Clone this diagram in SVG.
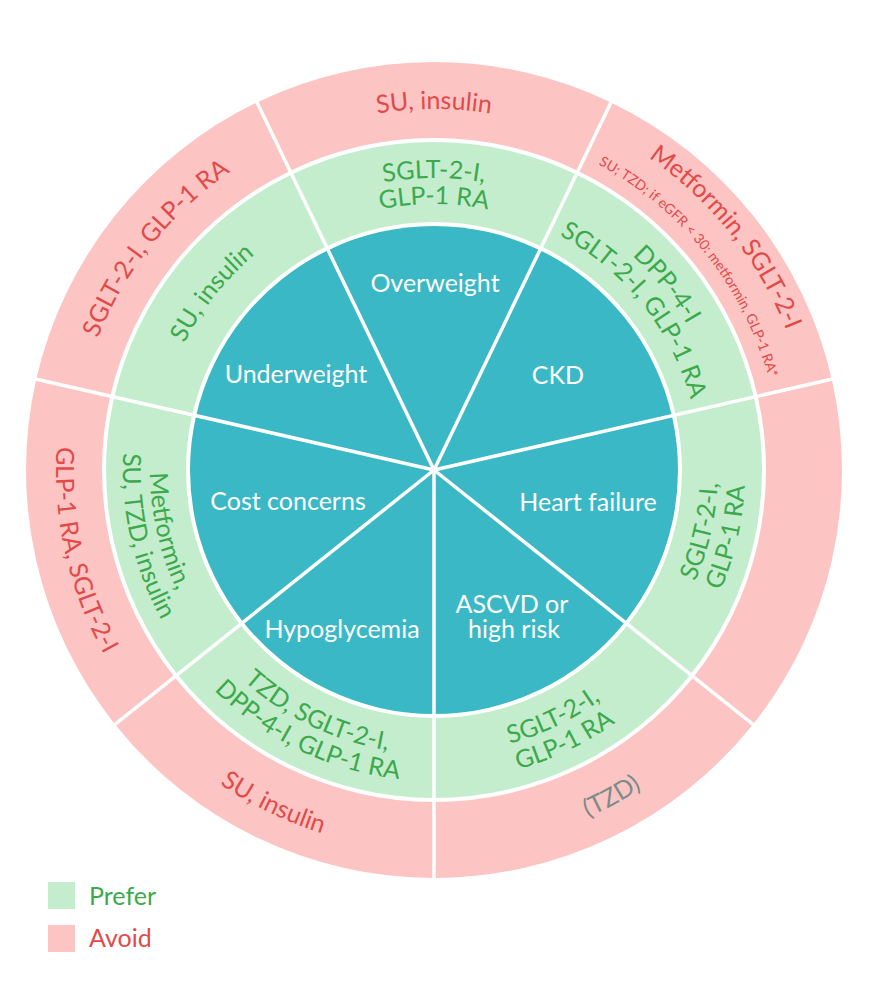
<svg xmlns="http://www.w3.org/2000/svg" width="874" height="999" viewBox="0 0 874 999">
<style>
.teal{fill:#3AB8C6}
.prefer{fill:#C4EDCE}
.avoid{fill:#FCC5C3}
text{font-family:Lato,"Open Sans","Liberation Sans",sans-serif;font-size:25px}
.lbl{fill:#fff;text-anchor:middle}
.g{fill:#3CA94C}
.r{fill:#E24A4A}
.gray{fill:#7D8B8B}
.sp{stroke:#fff;stroke-width:3.5;fill:none}
</style>
<defs>
<path id="o292" d="M146.44 419.29 A292 292 0 0 1 721.56 419.29"/>
<path id="o266" d="M172.04 423.81 A266 266 0 0 1 695.96 423.81"/>
<path id="o280" d="M158.25 421.38 A280 280 0 0 1 709.75 421.38"/>
<path id="o361" d="M78.48 407.31 A361 361 0 0 1 789.52 407.31"/>
<path id="o379" d="M60.76 404.19 A379 379 0 0 1 807.24 404.19"/>
<path id="o347" d="M92.27 409.74 A347 347 0 0 1 775.73 409.74"/>
<path id="i284" d="M154.31 519.32 A284 284 0 0 0 713.69 519.32"/>
<path id="i311" d="M127.72 524.01 A311 311 0 0 0 740.28 524.01"/>
<path id="i380" d="M59.77 535.99 A380 380 0 0 0 808.23 535.99"/>
<path id="i378" d="M61.74 535.64 A378 378 0 0 0 806.26 535.64"/>
</defs>
<rect width="874" height="999" fill="#fff"/>

<g id="overweight">
<path class="teal" d="M434 470 L328.13 250.16 A244 244 0 0 1 539.87 250.16 Z"/>
<path class="prefer" d="M326.40 246.56 A248 248 0 0 1 541.60 246.56 L576.31 174.48 A328 328 0 0 0 291.69 174.48 Z"/>
<path class="avoid" d="M289.95 170.88 A332 332 0 0 1 578.05 170.88 L611.02 102.40 A408 408 0 0 0 256.98 102.40 Z"/>
<text class="lbl" x="435" y="292">Overweight</text>
<text class="g"><textPath href="#o292" startOffset="50%" text-anchor="middle">SGLT-2-I,</textPath></text>
<text class="g"><textPath href="#o266" startOffset="50%" text-anchor="middle">GLP-1 RA</textPath></text>
<text class="r"><textPath href="#o361" startOffset="50%" text-anchor="middle">SU, insulin</textPath></text>
</g>

<g id="ckd">
<path class="teal" d="M434 470 L539.87 250.16 A244 244 0 0 1 671.88 415.71 Z"/>
<path class="prefer" d="M541.60 246.56 A248 248 0 0 1 675.78 414.82 L753.78 397.01 A328 328 0 0 0 576.31 174.48 Z"/>
<path class="avoid" d="M578.05 170.88 A332 332 0 0 1 757.68 396.12 L831.77 379.21 A408 408 0 0 0 611.02 102.40 Z"/>
<text class="lbl" x="558" y="384">CKD</text>
<g transform="rotate(51.43 434 470)">
<text class="g"><textPath href="#o292" startOffset="50%" text-anchor="middle">DPP-4-I</textPath></text>
<text class="g"><textPath href="#o266" startOffset="50%" text-anchor="middle">SGLT-2-I, GLP-1 RA</textPath></text>
<text class="r"><textPath href="#o379" startOffset="50%" text-anchor="middle">Metformin, SGLT-2-I</textPath></text>
<text class="r" style="font-size:14px"><textPath href="#o347" startOffset="50%" text-anchor="middle">SU; TZD; if eGFR &lt; 30: metformin, GLP-1 RA*</textPath></text>
</g>
</g>

<g id="heart-failure">
<path class="teal" d="M434 470 L671.88 415.71 A244 244 0 0 1 624.77 622.13 Z"/>
<path class="prefer" d="M675.78 414.82 A248 248 0 0 1 627.89 624.63 L690.44 674.50 A328 328 0 0 0 753.78 397.01 Z"/>
<path class="avoid" d="M757.68 396.12 A332 332 0 0 1 693.57 677 L752.99 724.38 A408 408 0 0 0 831.77 379.21 Z"/>
<text class="lbl" x="588" y="511">Heart failure</text>
<g transform="rotate(-77.14 434 470)">
<text class="g"><textPath href="#i284" startOffset="50%" text-anchor="middle">SGLT-2-I,</textPath></text>
<text class="g"><textPath href="#i311" startOffset="50%" text-anchor="middle">GLP-1 RA</textPath></text>
</g>
</g>

<g id="ascvd">
<path class="teal" d="M434 470 L624.77 622.13 A244 244 0 0 1 434 714 Z"/>
<path class="prefer" d="M627.89 624.63 A248 248 0 0 1 434 718 L434 798 A328 328 0 0 0 690.44 674.50 Z"/>
<path class="avoid" d="M693.57 677 A332 332 0 0 1 434 802 L434 878 A408 408 0 0 0 752.99 724.38 Z"/>
<text class="lbl" x="512" y="613">ASCVD or</text>
<text class="lbl" x="514" y="638">high risk</text>
<g transform="rotate(-25.71 434 470)">
<text class="g"><textPath href="#i284" startOffset="50%" text-anchor="middle">SGLT-2-I,</textPath></text>
<text class="g"><textPath href="#i311" startOffset="50%" text-anchor="middle">GLP-1 RA</textPath></text>
</g>
<g transform="rotate(-28.5 434 470)">
<text class="gray"><textPath href="#i380" startOffset="50%" text-anchor="middle">(TZD)</textPath></text>
</g>
</g>

<g id="hypoglycemia">
<path class="teal" d="M434 470 L434 714 A244 244 0 0 1 243.23 622.13 Z"/>
<path class="prefer" d="M434 718 A248 248 0 0 1 240.11 624.63 L177.56 674.50 A328 328 0 0 0 434 798 Z"/>
<path class="avoid" d="M434 802 A332 332 0 0 1 174.43 677 L115.01 724.38 A408 408 0 0 0 434 878 Z"/>
<text class="lbl" x="342" y="638">Hypoglycemia</text>
<g transform="rotate(25.71 434 470)">
<text class="g"><textPath href="#i284" startOffset="50%" text-anchor="middle">TZD, SGLT-2-I,</textPath></text>
<text class="g"><textPath href="#i311" startOffset="50%" text-anchor="middle">DPP-4-I, GLP-1 RA</textPath></text>
<text class="r"><textPath href="#i380" startOffset="50%" text-anchor="middle">SU, insulin</textPath></text>
</g>
</g>

<g id="cost-concerns">
<path class="teal" d="M434 470 L243.23 622.13 A244 244 0 0 1 196.12 415.71 Z"/>
<path class="prefer" d="M240.11 624.63 A248 248 0 0 1 192.22 414.82 L114.22 397.01 A328 328 0 0 0 177.56 674.50 Z"/>
<path class="avoid" d="M174.43 677 A332 332 0 0 1 110.32 396.12 L36.23 379.21 A408 408 0 0 0 115.01 724.38 Z"/>
<text class="lbl" x="288" y="510">Cost concerns</text>
<g transform="rotate(77.14 434 470)">
<text class="g"><textPath href="#i284" startOffset="50%" text-anchor="middle">Metformin,</textPath></text>
<text class="g"><textPath href="#i311" startOffset="50%" text-anchor="middle">SU, TZD, insulin</textPath></text>
<text class="r"><textPath href="#i378" startOffset="50%" text-anchor="middle">GLP-1 RA, SGLT-2-I</textPath></text>
</g>
</g>

<g id="underweight">
<path class="teal" d="M434 470 L196.12 415.71 A244 244 0 0 1 328.13 250.16 Z"/>
<path class="prefer" d="M192.22 414.82 A248 248 0 0 1 326.40 246.56 L291.69 174.48 A328 328 0 0 0 114.22 397.01 Z"/>
<path class="avoid" d="M110.32 396.12 A332 332 0 0 1 289.95 170.88 L256.98 102.40 A408 408 0 0 0 36.23 379.21 Z"/>
<text class="lbl" x="296" y="383">Underweight</text>
<g transform="rotate(-51.43 434 470)">
<text class="g"><textPath href="#o280" startOffset="50%" text-anchor="middle">SU, insulin</textPath></text>
<text class="r"><textPath href="#o361" startOffset="50%" text-anchor="middle">SGLT-2-I, GLP-1 RA</textPath></text>
</g>
</g>

<g id="dividers">
<line class="sp" x1="434" y1="470" x2="434" y2="880"/>
<line class="sp" x1="434" y1="470" x2="113.45" y2="725.63"/>
<line class="sp" x1="434" y1="470" x2="34.28" y2="378.77"/>
<line class="sp" x1="434" y1="470" x2="256.11" y2="100.60"/>
<line class="sp" x1="434" y1="470" x2="611.89" y2="100.60"/>
<line class="sp" x1="434" y1="470" x2="833.72" y2="378.77"/>
<line class="sp" x1="434" y1="470" x2="754.55" y2="725.63"/>
</g>

<g id="legend">
<rect class="prefer" x="48" y="882" width="27" height="27"/>
<text class="g" x="89" y="905">Prefer</text>
<rect class="avoid" x="48" y="925" width="27" height="27"/>
<text class="r" x="89" y="947">Avoid</text>
</g>
</svg>
